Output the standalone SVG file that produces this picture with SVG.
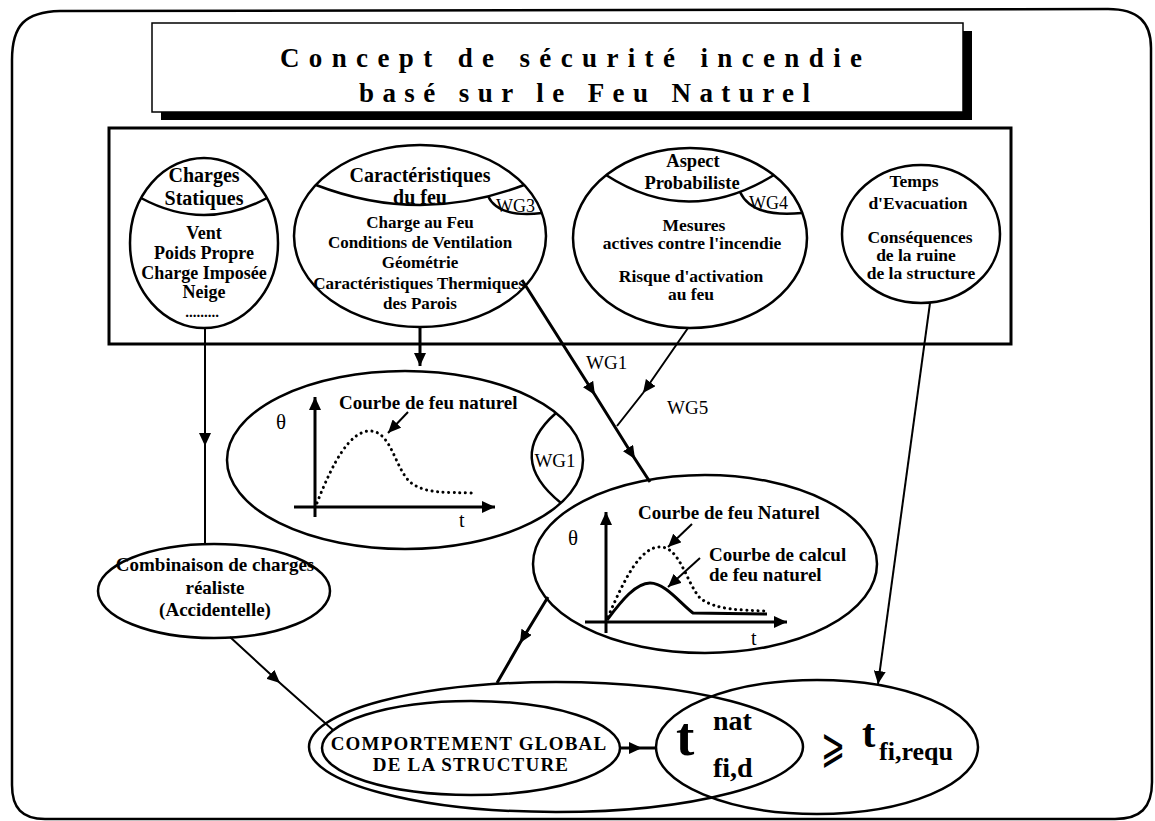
<svg xmlns="http://www.w3.org/2000/svg" width="1155" height="821" viewBox="0 0 1155 821">
<style>
.el{fill:none;stroke:#000;stroke-width:2.5}
.thin{fill:none;stroke:#000;stroke-width:2}
.thick{fill:none;stroke:#000;stroke-width:3}
.dot{fill:none;stroke:#000;stroke-width:3;stroke-dasharray:0.1 5.5;stroke-linecap:round}
.b{font-family:"Liberation Serif",serif;font-weight:bold;fill:#000}
.n{font-family:"Liberation Serif",serif;fill:#000}
.c{text-anchor:middle}
</style>
<defs>
<marker id="ah" markerUnits="userSpaceOnUse" markerWidth="14" markerHeight="12" refX="13" refY="6" orient="auto"><path d="M0,0 L13,6 L0,12 Z" fill="#000"/></marker>
</defs>
<rect width="1155" height="821" fill="#fff"/>
<path class="el" d="M12,60 C12,25 25,12 60,11 L1108,9 C1138,9 1151,22 1151,48 L1152,782 C1152,808 1140,819 1115,819 L45,819 C22,819 12,808 12,785 Z"/>

<g id="title">
<rect x="161" y="31" width="811" height="89" fill="#000"/>
<rect x="152" y="23" width="811" height="89" fill="#fff" stroke="#000" stroke-width="1.5"/>
<text class="b" x="280" y="67" font-size="27" textLength="582" lengthAdjust="spacing">Concept de sécurité incendie</text>
<text class="b" x="359" y="102" font-size="27" textLength="451" lengthAdjust="spacing">basé sur le Feu Naturel</text>
</g>

<g id="box">
<rect x="109" y="128" width="902" height="216" fill="none" stroke="#000" stroke-width="3"/>
</g>

<g id="charges-statiques">
<ellipse class="el" cx="204" cy="243" rx="74" ry="85"/>
<path class="el" d="M141,198 Q204,232 267,198"/>
<text class="b c" x="204" y="182" font-size="20">Charges</text>
<text class="b c" x="204" y="205" font-size="20">Statiques</text>
<text class="b c" x="204" y="239" font-size="18">Vent</text>
<text class="b c" x="204" y="259" font-size="18">Poids Propre</text>
<text class="b c" x="204" y="279" font-size="18">Charge Imposée</text>
<text class="b c" x="204" y="298" font-size="18">Neige</text>
<text class="b c" x="202" y="317" font-size="15">.........</text>
</g>

<g id="caracteristiques-feu">
<ellipse class="el" cx="420" cy="236" rx="126" ry="91"/>
<path class="el" d="M316,185 Q420,225 524,185"/>
<path class="el" d="M488,196 Q498,218 542,213"/>
<text class="n" x="496" y="212" font-size="18">WG3</text>
<text class="b c" x="420" y="182" font-size="20">Caractéristiques</text>
<text class="b c" x="420" y="204" font-size="20">du feu</text>
<text class="b c" x="420" y="228" font-size="17">Charge au Feu</text>
<text class="b c" x="420" y="248" font-size="17">Conditions de Ventilation</text>
<text class="b c" x="420" y="268" font-size="17">Géométrie</text>
<text class="b c" x="419" y="289" font-size="17">Caractéristiques Thermiques</text>
<text class="b c" x="420" y="309" font-size="17">des Parois</text>
</g>

<g id="aspect-probabiliste">
<ellipse class="el" cx="690" cy="238" rx="117" ry="90"/>
<path class="el" d="M606,175 Q688,228 774,175"/>
<path class="el" d="M740,192 Q752,218 802,213"/>
<text class="n" x="749" y="209" font-size="18">WG4</text>
<text class="b c" x="693" y="167" font-size="18.5">Aspect</text>
<text class="b c" x="692" y="189" font-size="18.5">Probabiliste</text>
<text class="b c" x="694" y="231" font-size="17.5">Mesures</text>
<text class="b c" x="692" y="249" font-size="17.5">actives contre l'incendie</text>
<text class="b c" x="691" y="282" font-size="17.5">Risque d'activation</text>
<text class="b c" x="691" y="300" font-size="17.5">au feu</text>
</g>

<g id="temps-evacuation">
<ellipse class="el" cx="921" cy="234" rx="79" ry="69"/>
<text class="b c" x="914" y="187" font-size="17.5">Temps</text>
<text class="b c" x="918" y="209" font-size="17.5">d'Evacuation</text>
<text class="b c" x="920" y="243" font-size="17.5">Conséquences</text>
<text class="b c" x="916" y="261" font-size="17.5">de la ruine</text>
<text class="b c" x="921" y="279" font-size="17.5">de la structure</text>
</g>

<g id="courbe-feu-naturel">
<ellipse class="el" cx="405" cy="460" rx="178" ry="89"/>
<path class="el" d="M556,413 Q505,458 561,503"/>
<text class="n c" x="555" y="467" font-size="19">WG1</text>
<path class="thick" d="M315,517 L315,397" marker-end="url(#ah)"/>
<path class="thick" d="M294,507 L495,507" marker-end="url(#ah)"/>
<path class="dot" d="M317,503 C333,462 350,431 370,431 C391,431 395,468 410,482 C425,494 445,492 473,493"/>
<text class="n" x="276" y="429" font-size="21">θ</text>
<text class="n" x="459" y="527" font-size="20">t</text>
<text class="b" x="339" y="409" font-size="19">Courbe de feu naturel</text>
<path class="thin" d="M408,412 L388,433" marker-end="url(#ah)"/>
</g>

<g id="courbe-calcul">
<ellipse class="el" cx="705" cy="564" rx="172" ry="89"/>
<path class="thick" d="M606,633 L606,512" marker-end="url(#ah)"/>
<path class="thick" d="M585,622 L787,622" marker-end="url(#ah)"/>
<path class="dot" d="M608,617 C624,580 640,547 660,547 C680,547 686,582 700,598 C715,610 740,610 767,611"/>
<path class="thick" d="M607,620 C622,600 636,583 650,583 C665,583 680,603 693,613 L767,614"/>
<text class="n" x="568" y="545" font-size="21">θ</text>
<text class="n" x="751" y="645" font-size="20">t</text>
<text class="b" x="638" y="519" font-size="19">Courbe de feu Naturel</text>
<text class="b" x="709" y="561" font-size="19">Courbe de calcul</text>
<text class="b" x="709" y="581" font-size="19">de feu naturel</text>
<path class="thin" d="M692,524 L668,547" marker-end="url(#ah)"/>
<path class="thin" d="M700,558 L668,587" marker-end="url(#ah)"/>
</g>

<g id="combinaison">
<ellipse class="el" cx="214" cy="591" rx="116" ry="47"/>
<text class="b c" x="215" y="571" font-size="19">Combinaison de charges</text>
<text class="b c" x="215" y="594" font-size="19">réaliste</text>
<text class="b c" x="215" y="616" font-size="19">(Accidentelle)</text>
</g>

<g id="comportement">
<ellipse class="el" cx="556" cy="747" rx="247" ry="65"/>
<ellipse class="el" cx="471" cy="748" rx="149" ry="47"/>
<text class="b c" x="469" y="750" font-size="19" letter-spacing="1.2">COMPORTEMENT GLOBAL</text>
<text class="b c" x="471" y="771" font-size="19" letter-spacing="1.2">DE LA STRUCTURE</text>
</g>

<g id="t-fi-requ">
<ellipse class="el" cx="817" cy="747" rx="161" ry="67"/>
<text class="b" x="676" y="755" font-size="55">t</text>
<text class="b" x="713" y="730" font-size="28">nat</text>
<text class="b" x="713" y="777" font-size="28">fi,d</text>
<text class="n" transform="translate(821,762) scale(0.9,1.5)" font-family="DejaVu Sans, sans-serif" font-size="32">⩾</text>
<text class="b" x="862" y="747" font-size="40">t</text>
<text class="b" x="879" y="760" font-size="26">fi,requ</text>
</g>

<g id="connectors">
<path class="thin" d="M205,328 L205,446 L205,544" marker-mid="url(#ah)"/>
<path class="thick" d="M420,327 L420,366" marker-end="url(#ah)"/>
<path class="thick" d="M522,280 L595,395 L635,459 L650,482" marker-mid="url(#ah)"/>
<text class="n" x="586" y="369" font-size="19">WG1</text>
<path class="thin" d="M688,328 L643,393 L617,426" marker-mid="url(#ah)"/>
<text class="n" x="667" y="414" font-size="19">WG5</text>
<path class="thick" d="M548,597 L520,643 L497,683" marker-mid="url(#ah)"/>
<path class="thin" d="M230,637 L280,683 L333,730" marker-mid="url(#ah)"/>
<path class="thin" d="M930,303 L878,684" marker-end="url(#ah)"/>
<path class="thick" d="M620,748 L642,748 L657,748" marker-mid="url(#ah)"/>
</g>
</svg>
